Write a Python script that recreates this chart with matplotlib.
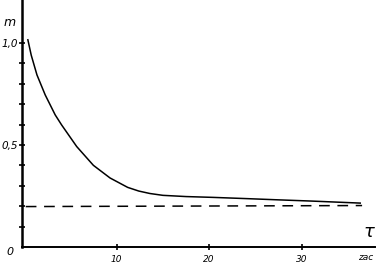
import matplotlib
matplotlib.use("Agg")
import matplotlib.pyplot as plt

# data
t_vals = [0.43, 0.79, 1.41, 2.3, 3.38, 4.07, 5.7, 7.5, 9.3, 11.2, 12.4,
          13.6, 15.0, 17.5, 20.4, 24.0, 27.4, 31.0, 36.3]
m_vals = [1.015, 0.94, 0.843, 0.745, 0.647, 0.598, 0.492, 0.40, 0.338, 0.292, 0.274,
          0.262, 0.253, 0.247, 0.243, 0.237, 0.231, 0.225, 0.215]
dash_t = [0.2, 36.5]
dash_m = [0.198, 0.203]
x_ticks = [10, 20, 30]
x_ticklabels = ["10", "20", "30"]
y_ticks = [0.1, 0.2, 0.3, 0.4, 0.5, 0.6, 0.7, 0.8, 0.9, 1.0]
y_ticklabels = ["", "", "", "", "0,5", "", "", "", "", "1,0"]

fig = plt.figure(figsize=(3.8, 2.65), dpi=100)
ax = fig.add_axes([0.058, 0.068, 0.929, 0.932])
ax.plot(t_vals, m_vals, color="black", lw=1.1, solid_joinstyle="round")
ax.plot(dash_t, dash_m, color="black", lw=1.1, dashes=(7, 5))

ax.set_xlim(-0.2, 37.9)
ax.set_ylim(0, 1.21)
for s in ["top", "right"]:
    ax.spines[s].set_visible(False)
ax.spines["left"].set_linewidth(1.8)
ax.spines["bottom"].set_linewidth(1.4)

ax.set_xticks(x_ticks)
ax.set_xticklabels(x_ticklabels, fontsize=6.5, fontstyle="italic")
ax.set_yticks(y_ticks)
ax.set_yticklabels(y_ticklabels, fontsize=7.5, fontstyle="italic")
ax.tick_params(axis="both", direction="inout", length=4, width=1.2)
ax.tick_params(axis="x", pad=4)
ax.tick_params(axis="y", pad=1)

fig.text(0.026, 0.05, "0", fontsize=8, fontstyle="italic", ha="center", va="center")
fig.text(0.026, 0.915, "m", fontsize=9, fontstyle="italic", ha="center", va="center")
fig.text(0.972, 0.125, "τ", fontsize=13, fontstyle="italic", ha="center", va="center")
fig.text(0.962, 0.027, "zac", fontsize=6.5, fontstyle="italic", ha="center", va="center")

fig.savefig("out.png", dpi=100)
